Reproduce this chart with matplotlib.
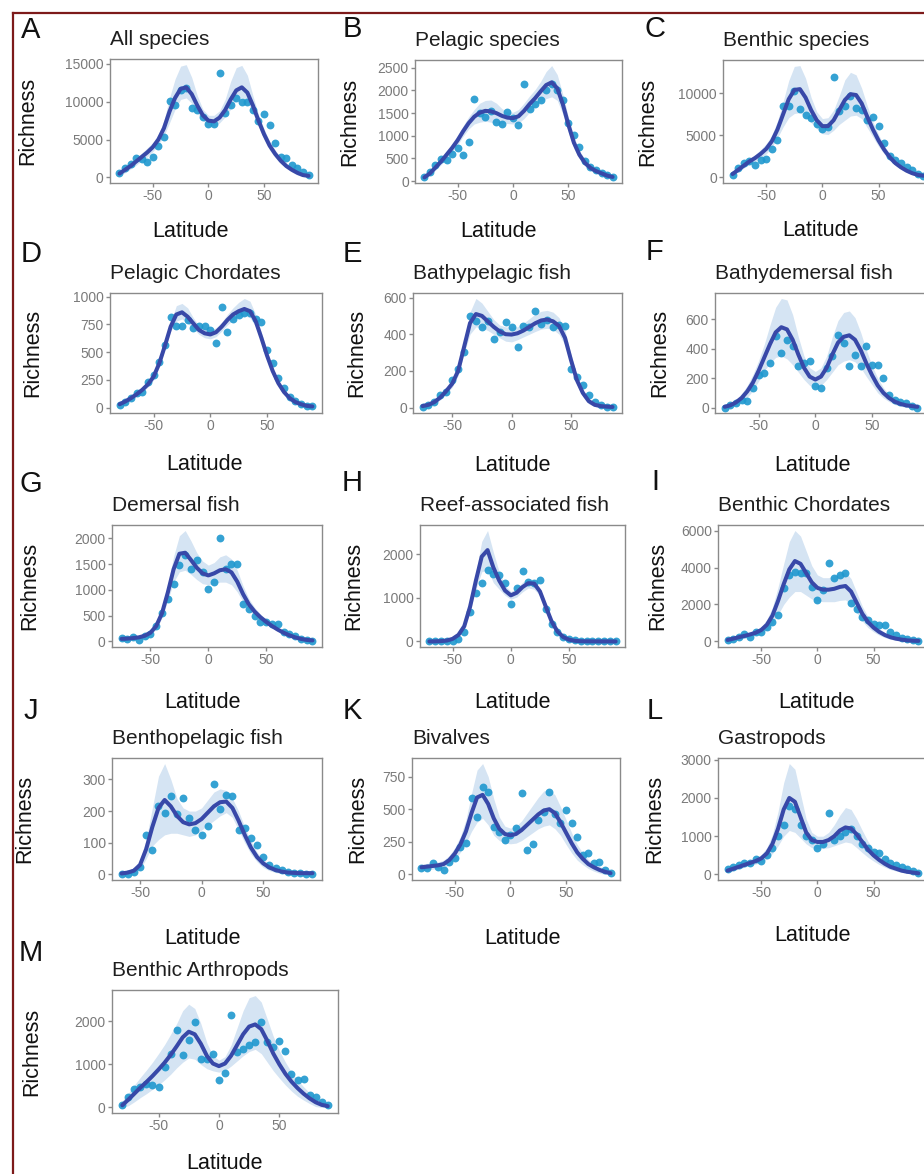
import numpy as np
import matplotlib
matplotlib.use('Agg')
import matplotlib.pyplot as plt
from matplotlib.ticker import MultipleLocator, FuncFormatter
from matplotlib.lines import Line2D

plt.rcParams['font.family'] = ['Liberation Sans', 'DejaVu Sans']
plt.rcParams['axes.unicode_minus'] = False

# latitude grids (5 degree bands)
LAT_80_90 = [-80, -75, -70, -65, -60, -55, -50, -45, -40, -35, -30, -25, -20, -15, -10, -5, 0,
             5, 10, 15, 20, 25, 30, 35, 40, 45, 50, 55, 60, 65, 70, 75, 80, 85, 90]
LAT_75_85 = [-75, -70, -65, -60, -55, -50, -45, -40, -35, -30, -25, -20, -15, -10, -5, 0,
             5, 10, 15, 20, 25, 30, 35, 40, 45, 50, 55, 60, 65, 70, 75, 80, 85]
LAT_75_90 = [-75, -70, -65, -60, -55, -50, -45, -40, -35, -30, -25, -20, -15, -10, -5, 0,
             5, 10, 15, 20, 25, 30, 35, 40, 45, 50, 55, 60, 65, 70, 75, 80, 85, 90]
LAT_70_90 = [-70, -65, -60, -55, -50, -45, -40, -35, -30, -25, -20, -15, -10, -5, 0,
             5, 10, 15, 20, 25, 30, 35, 40, 45, 50, 55, 60, 65, 70, 75, 80, 85, 90]
LAT_65_90 = [-65, -60, -55, -50, -45, -40, -35, -30, -25, -20, -15, -10, -5, 0,
             5, 10, 15, 20, 25, 30, 35, 40, 45, 50, 55, 60, 65, 70, 75, 80, 85, 90]

# A  All species
A_PTS = [600, 1300, 1800, 2500, 2400, 2000, 2700, 4200, 5300, 10100, 9600, 11600, 11800, 9200, 8900, 8000, 7100, 7100,
         13800, 8500, 9600, 10500, 10000, 9900, 8900, 7400, 8400, 6900, 4500, 2700, 2500, 1600, 1300, 700, 250]
A_FIT = [500, 1000, 1500, 2100, 2700, 3300, 4000, 5000, 6500, 8700, 10500, 11700, 11900, 11000, 9500, 8200, 7500, 7400,
         7900, 8900, 10300, 11500, 11900, 11200, 9500, 7500, 5700, 4200, 3100, 2200, 1500, 1000, 600, 300, 200]
A_HI = [800, 1400, 1900, 2600, 3200, 3900, 4600, 5700, 7500, 10500, 13000, 14700, 14900, 13200, 10800, 9000, 8200, 8200,
        8800, 10300, 12700, 14500, 14800, 13500, 10800, 8300, 6400, 4800, 3600, 2600, 1800, 1300, 900, 600, 500]
A_LO = [200, 600, 1100, 1600, 2200, 2700, 3400, 4300, 5500, 7200, 9000, 10300, 10500, 9800, 8500, 7500, 6900, 6800,
        7200, 8000, 9000, 10200, 10600, 10000, 8500, 6700, 5000, 3600, 2600, 1800, 1200, 700, 300, 100, 0]

# B  Pelagic species
B_PTS = [95, 200, 350, 480, 460, 600, 720, 570, 870, 1820, 1500, 1420, 1550, 1310, 1270, 1530, 1400, 1235,
         2150, 1600, 1710, 1790, 2000, 2150, 2000, 1790, 1290, 1010, 760, 450, 320, 240, 180, 140, 100]
B_FIT = [80, 170, 300, 430, 580, 730, 900, 1100, 1280, 1420, 1510, 1550, 1540, 1500, 1440, 1400, 1390, 1430,
         1550, 1700, 1830, 1980, 2120, 2180, 2050, 1700, 1250, 850, 580, 400, 290, 220, 170, 120, 90]
B_HI = [120, 230, 370, 510, 670, 830, 1010, 1220, 1420, 1580, 1720, 1780, 1790, 1720, 1600, 1530, 1520, 1580,
        1720, 1880, 2020, 2200, 2420, 2550, 2350, 1920, 1420, 980, 670, 480, 360, 280, 230, 180, 150]
B_LO = [80, 130, 240, 360, 500, 640, 800, 990, 1150, 1260, 1300, 1320, 1300, 1280, 1280, 1270, 1260, 1280,
        1380, 1520, 1640, 1760, 1820, 1860, 1780, 1480, 1080, 720, 490, 330, 230, 170, 130, 100, 80]

# C  Benthic species
C_PTS = [340, 1060, 1700, 1900, 1490, 2100, 2200, 3400, 4470, 8500, 8500, 10300, 8100, 7450, 7100, 6380, 5740, 6000,
         11900, 7870, 8500, 9700, 8300, 8000, 6800, 7200, 6170, 4040, 2550, 2100, 1700, 1280, 850, 430, 200]
C_FIT = [400, 900, 1400, 1900, 2300, 2800, 3400, 4300, 5700, 7500, 9300, 10400, 10500, 9500, 8000, 6800, 6100, 6100,
         6800, 8000, 9200, 9900, 9800, 8800, 7200, 5700, 4400, 3300, 2400, 1700, 1200, 800, 500, 300, 200]
C_HI = [600, 1150, 1700, 2250, 2700, 3300, 4000, 5000, 6700, 9000, 11500, 13200, 13300, 11800, 9500, 7800, 7000, 7100,
        8000, 9700, 11600, 12500, 12200, 10600, 8500, 6600, 5100, 3800, 2800, 2000, 1450, 1000, 700, 500, 400]
C_LO = [200, 650, 1100, 1550, 1900, 2300, 2800, 3600, 4700, 6000, 7100, 7600, 7700, 7200, 6500, 5800, 5200, 5100,
        5600, 6300, 6800, 7300, 7400, 7000, 5900, 4800, 3700, 2800, 2000, 1400, 950, 600, 300, 100, 0]

# D  Pelagic Chordates
D_PTS = [24, 54, 90, 130, 144, 234, 294, 414, 564, 820, 740, 738, 789, 714, 740, 738, 700, 580,
         909, 684, 804, 834, 850, 850, 800, 774, 519, 400, 264, 174, 99, 60, 30, 15, 10]
D_FIT = [30, 55, 85, 120, 160, 210, 280, 400, 560, 730, 840, 860, 820, 760, 700, 670, 660, 680,
         730, 790, 840, 870, 890, 870, 780, 630, 470, 330, 220, 140, 85, 50, 30, 15, 10]
D_HI = [45, 70, 100, 135, 180, 235, 310, 430, 590, 770, 920, 940, 900, 810, 740, 710, 700, 720,
        770, 840, 900, 950, 985, 960, 840, 680, 510, 360, 245, 160, 100, 65, 45, 30, 25]
D_LO = [15, 40, 70, 105, 140, 185, 250, 370, 530, 690, 780, 800, 760, 715, 660, 630, 620, 640,
        690, 745, 790, 820, 830, 810, 730, 590, 430, 300, 195, 120, 70, 35, 15, 0, 0]

# E  Bathypelagic fish
E_PTS = [5, 14, 32, 68, 86, 149, 212, 302, 500, 473, 437, 470, 374, 410, 464, 437, 329,
         446, 437, 527, 455, 480, 437, 450, 443, 212, 167, 122, 68, 32, 15, 5, 3]
E_FIT = [8, 15, 30, 55, 90, 130, 200, 330, 460, 510, 500, 470, 440, 415, 400, 398, 405,
         420, 440, 460, 475, 480, 470, 445, 380, 260, 150, 80, 35, 15, 8, 5, 3]
E_HI = [15, 25, 40, 68, 105, 150, 225, 365, 520, 595, 570, 525, 480, 450, 440, 438, 440,
        460, 485, 510, 525, 530, 520, 490, 420, 290, 175, 100, 50, 25, 15, 10, 8]
E_LO = [0, 5, 20, 42, 75, 110, 175, 295, 400, 440, 435, 420, 400, 380, 362, 358, 370,
        385, 400, 415, 428, 432, 425, 400, 340, 230, 125, 60, 20, 5, 0, 0, 0]

# F  Bathydemersal fish
F_PTS = [0, 18, 30, 52, 45, 130, 222, 234, 302, 484, 370, 461, 420, 279, 302, 313, 143, 132,
         268, 347, 495, 438, 279, 359, 279, 415, 290, 290, 200, 86, 50, 40, 30, 10, 0]
F_FIT = [5, 15, 35, 65, 110, 170, 250, 340, 430, 510, 545, 530, 460, 360, 270, 210, 190, 210,
         270, 360, 440, 480, 490, 460, 390, 300, 220, 150, 100, 65, 40, 25, 15, 10, 5]
F_HI = [15, 30, 55, 95, 150, 225, 320, 430, 560, 680, 740, 730, 630, 480, 350, 270, 245, 270,
        350, 480, 590, 645, 655, 610, 510, 390, 285, 200, 135, 90, 60, 40, 30, 25, 20]
F_LO = [0, 0, 15, 35, 70, 115, 180, 250, 300, 340, 350, 330, 290, 240, 190, 150, 135, 150,
        190, 240, 290, 315, 325, 310, 270, 210, 155, 100, 65, 40, 20, 10, 0, 0, 0]

# G  Demersal fish
G_PTS = [59, 46, 78, 33, 110, 143, 300, 550, 827, 1120, 1478, 1673, 1413, 1575, 1347, 1022, 1152,
         2000, 1400, 1510, 1510, 729, 631, 501, 371, 371, 338, 338, 176, 143, 111, 46, 30, 13]
G_FIT = [50, 55, 65, 80, 110, 170, 300, 550, 950, 1400, 1700, 1720, 1580, 1430, 1320, 1280, 1320,
         1380, 1400, 1340, 1160, 920, 720, 580, 470, 380, 300, 230, 170, 120, 80, 50, 30, 20]
G_HI = [70, 75, 90, 110, 145, 215, 360, 640, 1100, 1650, 2050, 2150, 1950, 1720, 1560, 1480, 1530,
        1640, 1680, 1600, 1380, 1080, 830, 660, 530, 430, 340, 265, 200, 145, 100, 70, 50, 40]
G_LO = [30, 35, 40, 50, 75, 125, 240, 460, 800, 1150, 1350, 1380, 1300, 1200, 1120, 1100, 1120,
        1150, 1150, 1100, 960, 770, 610, 500, 410, 330, 260, 195, 140, 95, 60, 30, 10, 0]

# H  Reef-associated fish
H_PTS = [0, 0, 0, 10, 20, 54, 210, 677, 1105, 1338, 1650, 1548, 1532, 1338, 871, 1221, 1626,
         1377, 1350, 1416, 755, 404, 210, 93, 54, 39, 15, 5, 0, 0, 0, 0, 0]
H_FIT = [0, 2, 8, 20, 60, 150, 350, 800, 1400, 1950, 2100, 1700, 1400, 1170, 1060, 1120, 1250,
         1340, 1330, 1150, 800, 460, 230, 100, 40, 15, 5, 3, 2, 1, 1, 1, 0]
H_HI = [10, 12, 20, 35, 80, 180, 400, 900, 1600, 2300, 2550, 2050, 1600, 1280, 1150, 1220, 1360,
        1450, 1420, 1220, 880, 520, 270, 130, 60, 30, 15, 10, 10, 10, 10, 10, 10]
H_LO = [0, 0, 0, 5, 40, 120, 300, 700, 1200, 1600, 1650, 1350, 1200, 1060, 970, 1020, 1140,
        1230, 1200, 1050, 720, 400, 190, 70, 20, 0, 0, 0, 0, 0, 0, 0, 0]

# I  Benthic Chordates
I_PTS = [55, 145, 236, 418, 236, 509, 509, 780, 1054, 1418, 2872, 3600, 3780, 3690, 3700, 2963, 2236, 2800,
         4236, 3418, 3600, 3690, 2054, 1781, 1327, 1145, 963, 900, 872, 509, 327, 200, 145, 55, 40]
I_FIT = [80, 150, 230, 300, 380, 470, 620, 900, 1400, 2200, 3100, 3900, 4350, 4200, 3700, 3200, 2900, 2800,
         2800, 2850, 2950, 3000, 2700, 2100, 1500, 1050, 750, 520, 350, 230, 150, 100, 60, 40, 30]
I_HI = [150, 240, 330, 410, 500, 610, 800, 1180, 1850, 2950, 4200, 5400, 6000, 5700, 4900, 4100, 3600, 3450,
        3450, 3550, 3680, 3750, 3400, 2650, 1900, 1350, 980, 700, 490, 340, 240, 170, 120, 90, 80]
I_LO = [10, 60, 130, 190, 260, 330, 440, 620, 950, 1450, 2000, 2400, 2700, 2700, 2500, 2300, 2200, 2150,
        2150, 2150, 2220, 2250, 2000, 1550, 1100, 750, 520, 340, 210, 120, 60, 30, 0, 0, 0]

# J  Benthopelagic fish
J_PTS = [3, 3, 8, 24, 125, 77, 215, 194, 247, 190, 240, 178, 141, 125, 154, 284,
         205, 252, 247, 141, 146, 114, 93, 56, 30, 20, 14, 8, 5, 4, 3, 3]
J_FIT = [3, 6, 12, 30, 80, 150, 210, 235, 215, 185, 165, 158, 162, 175, 195, 215,
         228, 230, 210, 170, 125, 85, 55, 35, 22, 14, 9, 6, 5, 4, 4, 4]
J_HI = [8, 12, 20, 45, 110, 210, 310, 350, 300, 240, 210, 200, 200, 210, 235, 260,
        270, 265, 240, 200, 150, 105, 70, 48, 32, 22, 15, 12, 10, 10, 10, 10]
J_LO = [0, 0, 5, 15, 50, 90, 110, 125, 130, 130, 125, 120, 125, 140, 155, 170,
        185, 195, 180, 140, 100, 65, 40, 22, 12, 6, 3, 0, 0, 0, 0, 0]

# K  Bivalves
K_PTS = [46, 46, 84, 59, 33, 97, 123, 212, 238, 584, 443, 668, 635, 366, 328, 264, 300, 353,
         622, 187, 233, 420, 480, 635, 460, 392, 494, 392, 289, 148, 161, 84, 97, 33, 8]
K_FIT = [55, 60, 65, 70, 80, 110, 160, 230, 330, 470, 590, 610, 540, 430, 350, 310, 300, 310,
         340, 380, 420, 460, 490, 500, 470, 400, 320, 240, 170, 120, 80, 55, 35, 20, 10]
K_HI = [80, 85, 90, 95, 110, 145, 205, 290, 420, 620, 800, 850, 750, 580, 440, 370, 355, 370,
        410, 470, 530, 590, 640, 650, 610, 520, 420, 320, 230, 165, 115, 80, 60, 45, 35]
K_LO = [30, 35, 40, 45, 50, 75, 115, 170, 240, 330, 400, 430, 380, 300, 260, 240, 235, 240,
        260, 290, 320, 350, 370, 380, 350, 300, 230, 165, 110, 75, 45, 25, 10, 0, 0]

# L  Gastropods
L_PTS = [150, 200, 250, 300, 300, 400, 350, 500, 700, 1000, 1300, 1800, 1700, 1300, 1000, 900, 700, 800,
         1600, 900, 1000, 1100, 1200, 1000, 800, 700, 600, 550, 400, 300, 250, 200, 150, 100, 50]
L_FIT = [100, 150, 200, 250, 300, 350, 420, 550, 800, 1200, 1700, 2000, 1900, 1500, 1100, 900, 850, 850,
         900, 1000, 1150, 1230, 1200, 1050, 850, 650, 500, 380, 280, 200, 150, 100, 70, 50, 30]
L_HI = [150, 200, 260, 310, 370, 430, 520, 700, 1050, 1650, 2400, 2900, 2750, 2100, 1450, 1100, 1000, 1000,
        1100, 1300, 1550, 1750, 1700, 1450, 1150, 870, 660, 500, 370, 270, 200, 140, 100, 80, 60]
L_LO = [50, 100, 140, 190, 230, 270, 320, 400, 550, 750, 1000, 1150, 1100, 950, 800, 700, 680, 680,
        700, 750, 800, 850, 820, 700, 570, 450, 350, 260, 190, 130, 90, 60, 30, 10, 0]

# M  Benthic Arthropods
M_PTS = [54, 246, 438, 477, 554, 515, 477, 938, 1246, 1800, 1230, 1577, 1977, 1115, 1115, 1246, 646, 800,
         2153, 1300, 1361, 1450, 1530, 1977, 1530, 1400, 1553, 1323, 785, 630, 669, 300, 246, 120, 54]
M_FIT = [50, 180, 320, 460, 590, 730, 880, 1040, 1220, 1420, 1630, 1760, 1700, 1480, 1200, 1020, 960, 1020,
         1200, 1450, 1700, 1880, 1930, 1820, 1550, 1250, 1000, 780, 600, 450, 320, 210, 120, 60, 30]
M_HI = [150, 330, 520, 700, 870, 1050, 1250, 1460, 1700, 1950, 2250, 2400, 2300, 1950, 1500, 1200, 1100, 1180,
        1450, 1850, 2250, 2550, 2600, 2450, 2050, 1650, 1320, 1050, 820, 640, 480, 340, 230, 150, 100]
M_LO = [0, 40, 130, 230, 320, 420, 520, 640, 770, 920, 1050, 1150, 1120, 1000, 900, 850, 820, 860,
        960, 1080, 1200, 1300, 1350, 1250, 1050, 850, 680, 520, 380, 260, 170, 90, 20, 0, 0]

TITLES = {'A': 'All species', 'B': 'Pelagic species', 'C': 'Benthic species',
          'D': 'Pelagic Chordates', 'E': 'Bathypelagic fish', 'F': 'Bathydemersal fish',
          'G': 'Demersal fish', 'H': 'Reef-associated fish', 'I': 'Benthic Chordates',
          'J': 'Benthopelagic fish', 'K': 'Bivalves', 'L': 'Gastropods', 'M': 'Benthic Arthropods'}
YSTEP = {'A': 5000, 'B': 500, 'C': 5000, 'D': 250, 'E': 200, 'F': 200, 'G': 500,
         'H': 1000, 'I': 2000, 'J': 100, 'K': 250, 'L': 1000, 'M': 1000}

panels = [
    ('A', LAT_80_90, A_PTS, A_FIT, A_LO, A_HI),
    ('B', LAT_80_90, B_PTS, B_FIT, B_LO, B_HI),
    ('C', LAT_80_90, C_PTS, C_FIT, C_LO, C_HI),
    ('D', LAT_80_90, D_PTS, D_FIT, D_LO, D_HI),
    ('E', LAT_75_85, E_PTS, E_FIT, E_LO, E_HI),
    ('F', LAT_80_90, F_PTS, F_FIT, F_LO, F_HI),
    ('G', LAT_75_90, G_PTS, G_FIT, G_LO, G_HI),
    ('H', LAT_70_90, H_PTS, H_FIT, H_LO, H_HI),
    ('I', LAT_80_90, I_PTS, I_FIT, I_LO, I_HI),
    ('J', LAT_65_90, J_PTS, J_FIT, J_LO, J_HI),
    ('K', LAT_80_90, K_PTS, K_FIT, K_LO, K_HI),
    ('L', LAT_80_90, L_PTS, L_FIT, L_LO, L_HI),
    ('M', LAT_80_90, M_PTS, M_FIT, M_LO, M_HI),
]

# pixel layout: box left, box top, box width, box bottom, ylabel x, xlabel x, xlabel baseline, letter x, letter y
LAYOUT = {
    'A': (110, 59, 208, 183, 28, 191, 237, 31, 30),
    'B': (415, 60, 207, 183, 350, 499, 237, 352, 29),
    'C': (723, 60, 210, 183, 648, 821, 236, 655, 29),
    'D': (110, 293, 212, 413, 33, 205, 470, 31, 254),
    'E': (413, 293, 209, 413, 357, 513, 471, 352, 254),
    'F': (715, 293, 212, 413, 660, 813, 471, 655, 252),
    'G': (112, 525, 210, 647, 30, 203, 708, 31, 484),
    'H': (420, 525, 205, 647, 354, 512, 708, 352, 483),
    'I': (718, 525, 210, 647, 658, 817, 708, 655, 482),
    'J': (112, 758, 210, 880, 25, 203, 944, 31, 711),
    'K': (412, 758, 208, 880, 358, 522, 944, 352, 711),
    'L': (718, 758, 210, 880, 655, 812, 941, 655, 711),
    'M': (112, 990, 226, 1113, 32, 225, 1169, 31, 953),
}

W, H = 924, 1174
fig = plt.figure(figsize=(W / 100, H / 100), dpi=100)
fig.patch.set_facecolor('white')

def fx(x):
    return x / W

def fy(y):
    return 1 - y / H

grey = '#8a8a8a'
for key, lat, pts, fit, lo, hi in panels:
    assert len(lat) == len(pts) == len(fit) == len(lo) == len(hi), key
    left, top, width, bottom, ylx, xlx, xly, ltx, lty = LAYOUT[key]
    ax = fig.add_axes([fx(left), fy(bottom), width / W, (bottom - top) / H])
    lat = np.array(lat)

    ax.fill_between(lat, lo, hi, color='#d5e4f3', lw=0, zorder=1)
    ax.scatter(lat, pts, s=32, color='#1f98cf', alpha=0.9, lw=0, zorder=2)
    ax.plot(lat, fit, color='#3848a8', lw=2.9, zorder=3, solid_capstyle='round')

    # ggplot-like 5% expansion
    xr = lat.max() - lat.min()
    ax.set_xlim(lat.min() - 0.05 * xr, lat.max() + 0.05 * xr)
    ymin = min(min(lo), min(pts))
    ymax = max(max(hi), max(pts))
    yr = ymax - ymin
    ax.set_ylim(ymin - 0.05 * yr, ymax + 0.05 * yr)

    ax.set_xticks([-50, 0, 50])
    ax.yaxis.set_major_locator(MultipleLocator(YSTEP[key]))
    ax.yaxis.set_major_formatter(FuncFormatter(lambda v, p: f'{v:.0f}'))
    ax.tick_params(colors=grey, labelcolor='#7a7a7a', labelsize=10, length=3, width=1, pad=1.5)
    for sp in ax.spines.values():
        sp.set_color(grey)
        sp.set_linewidth(1)

    ax.set_title(TITLES[key], loc='left', pad=10, fontsize=15, color='#1e1e1e')
    fig.text(fx(ltx), fy(lty), key, ha='center', va='center', fontsize=21, color='#111111')
    fig.text(fx(ylx), fy((top + bottom) / 2), 'Richness', rotation=90, ha='center', va='center',
             fontsize=15.5, color='#111111')
    fig.text(fx(xlx), fy(xly), 'Latitude', ha='center', va='baseline', fontsize=15.5, color='#111111')

# dark red frame (top and left edges visible)
frame = '#7d1a1a'
fig.add_artist(Line2D([fx(13), 1], [fy(13), fy(13)], color=frame, lw=1.6, transform=fig.transFigure))
fig.add_artist(Line2D([fx(13), fx(13)], [fy(13), 0], color=frame, lw=1.6, transform=fig.transFigure))

fig.savefig('out.png', dpi=100)
